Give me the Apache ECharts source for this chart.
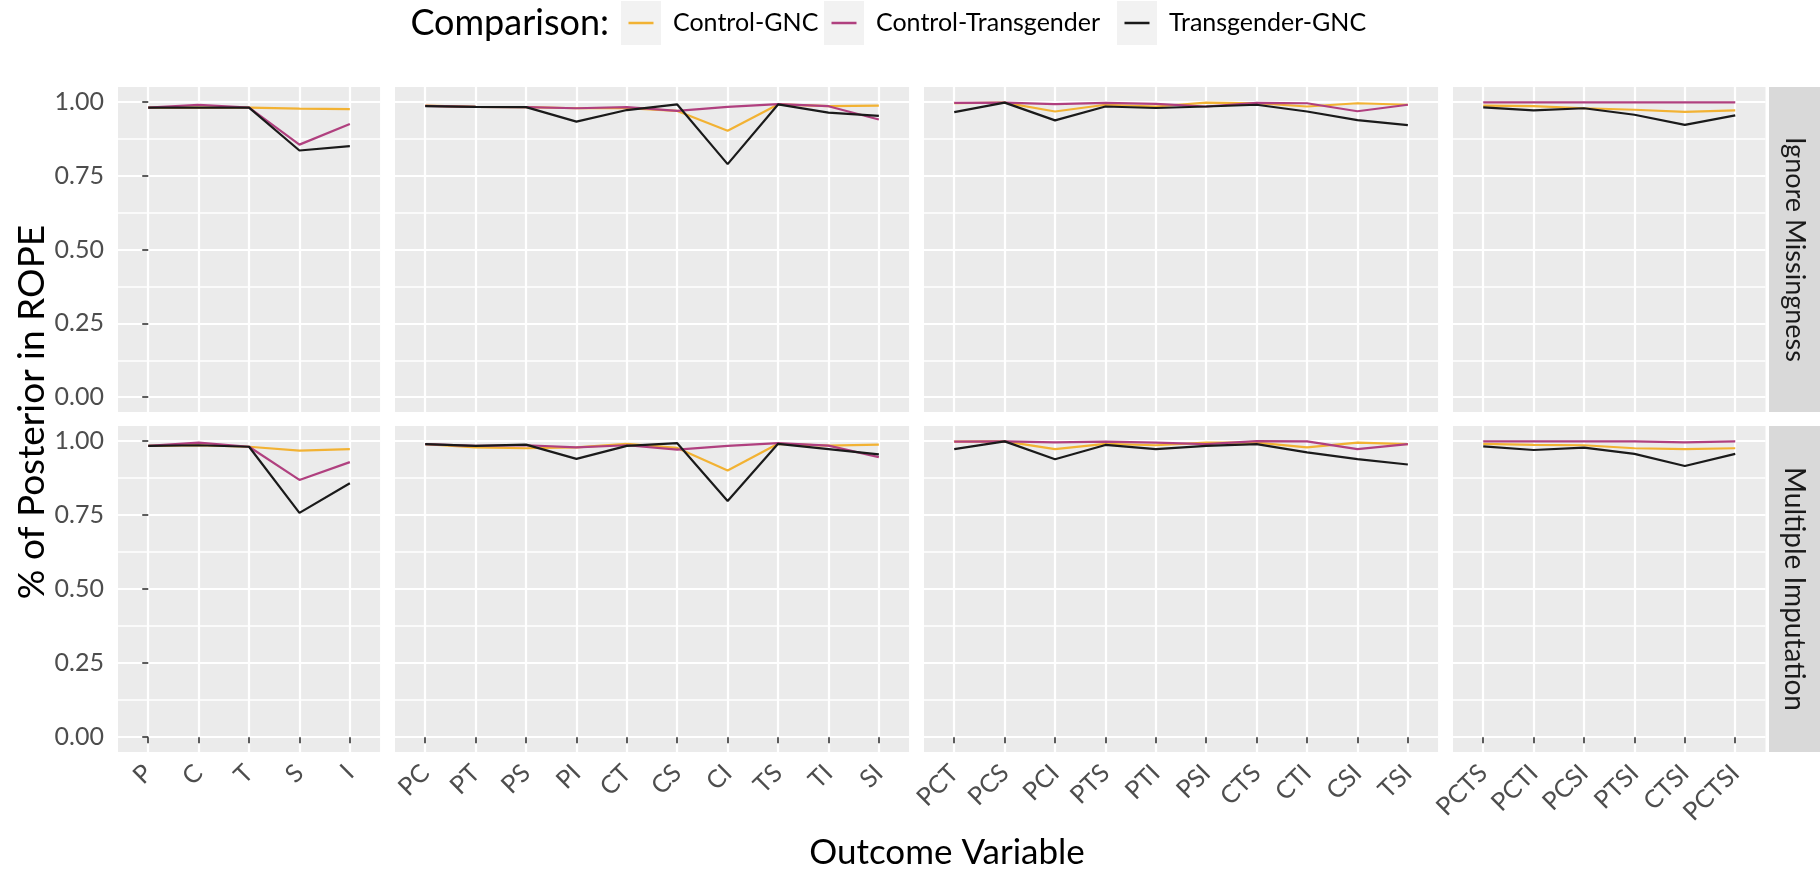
<!DOCTYPE html>
<html>
<head>
<meta charset="utf-8">
<script src="https://cdn.jsdelivr.net/npm/echarts@6/dist/echarts.min.js"></script>
<style>
html, body { margin: 0; padding: 0; background: #fff; }
#chart { width: 1820px; height: 872px; }
</style>
</head>
<body>
<div id="chart"></div>
<script>
// Comparison groups and their colours
const comparisons = ['Control-GNC', 'Control-Transgender', 'Transgender-GNC'];
const lineColors = ['#F2B233', '#B0407F', '#1A1A1A'];
const methods = ['Ignore Missingness', 'Multiple Imputation'];

// Outcome variables, one facet column per number of components
const outcomes1 = ['P', 'C', 'T', 'S', 'I'];
const outcomes2 = ['PC', 'PT', 'PS', 'PI', 'CT', 'CS', 'CI', 'TS', 'TI', 'SI'];
const outcomes3 = ['PCT', 'PCS', 'PCI', 'PTS', 'PTI', 'PSI', 'CTS', 'CTI', 'CSI', 'TSI'];
const outcomes4 = ['PCTS', 'PCTI', 'PCSI', 'PTSI', 'CTSI', 'PCTSI'];

const yTicks = [0, 0.25, 0.5, 0.75, 1];
const yMinorTicks = [0.125, 0.375, 0.625, 0.875];

// Share of posterior inside the ROPE, in outcome order (outcomes1..outcomes4)
// Ignore Missingness
const ignoreControlGNC = [
  0.980, 0.980, 0.980, 0.977, 0.975,
  0.987, 0.983, 0.982, 0.978, 0.978, 0.969, 0.902, 0.991, 0.985, 0.987,
  0.995, 0.997, 0.967, 0.990, 0.984, 0.997, 0.995, 0.984, 0.995, 0.990,
  0.987, 0.985, 0.978, 0.973, 0.966, 0.971
];
const ignoreControlTrans = [
  0.980, 0.990, 0.980, 0.855, 0.925,
  0.986, 0.983, 0.982, 0.978, 0.982, 0.969, 0.983, 0.992, 0.985, 0.940,
  0.996, 0.997, 0.992, 0.996, 0.993, 0.984, 0.996, 0.995, 0.968, 0.990,
  0.998, 0.998, 0.998, 0.998, 0.998, 0.998
];
const ignoreTransGNC = [
  0.980, 0.980, 0.980, 0.835, 0.850,
  0.985, 0.983, 0.982, 0.933, 0.972, 0.991, 0.789, 0.991, 0.963, 0.952,
  0.965, 0.997, 0.937, 0.984, 0.979, 0.984, 0.990, 0.967, 0.938, 0.921,
  0.981, 0.971, 0.978, 0.956, 0.922, 0.954
];
// Multiple Imputation
const imputeControlGNC = [
  0.983, 0.985, 0.980, 0.967, 0.972,
  0.989, 0.978, 0.975, 0.978, 0.990, 0.976, 0.900, 0.990, 0.984, 0.987,
  0.997, 0.998, 0.972, 0.990, 0.985, 0.994, 0.994, 0.978, 0.994, 0.989,
  0.990, 0.986, 0.985, 0.975, 0.972, 0.975
];
const imputeControlTrans = [
  0.983, 0.994, 0.980, 0.868, 0.928,
  0.989, 0.983, 0.985, 0.978, 0.985, 0.970, 0.983, 0.992, 0.984, 0.945,
  0.997, 0.998, 0.995, 0.997, 0.994, 0.989, 0.999, 0.998, 0.972, 0.989,
  0.998, 0.998, 0.998, 0.998, 0.995, 0.998
];
const imputeTransGNC = [
  0.983, 0.985, 0.980, 0.757, 0.857,
  0.989, 0.983, 0.987, 0.939, 0.983, 0.992, 0.797, 0.990, 0.972, 0.954,
  0.972, 0.998, 0.938, 0.986, 0.972, 0.983, 0.989, 0.961, 0.938, 0.920,
  0.981, 0.969, 0.977, 0.956, 0.915, 0.956
];

// ---- layout ----
const FONT = 'Lato, "Open Sans", sans-serif';
const groups = [outcomes1, outcomes2, outcomes3, outcomes4];
const rowValues = [
  [ignoreControlGNC, ignoreControlTrans, ignoreTransGNC],
  [imputeControlGNC, imputeControlTrans, imputeTransGNC]
];
const step = 50.4;                 // pixels per category
const colLeft = [118, 395, 924, 1453];
const rowTop = [87, 426];
const rowHeight = [325, 326];
const stripLeft = 1769, stripWidth = 51;
const tickStyle = { color: '#333333', width: 1.6 };

const grids = [], xAxes = [], yAxes = [], series = [];
let gi = 0;
for (let r = 0; r < 2; r++) {
  let offset = 0;
  for (let c = 0; c < 4; c++) {
    const names = groups[c];
    const n = names.length;
    const idx = names.map((_, i) => i);
    grids.push({
      left: colLeft[c], top: rowTop[r], width: (n + 0.2) * step, height: rowHeight[r],
      show: true, backgroundColor: '#EBEBEB', borderWidth: 0, containLabel: false
    });
    xAxes.push({
      type: 'value', gridIndex: gi, min: -0.6, max: n - 0.4,
      axisLine: { show: false },
      axisTick: { show: r === 1, customValues: idx, length: 6, lineStyle: tickStyle },
      axisLabel: {
        show: r === 1, customValues: idx, rotate: 45, margin: 17,
        fontSize: 25, color: '#4D4D4D', fontFamily: FONT,
        formatter: v => names[Math.round(v)]
      },
      splitLine: { show: true, lineStyle: { color: '#FFFFFF', width: 2.2 } }
    });
    // major y grid and tick labels
    yAxes.push({
      type: 'value', gridIndex: gi, min: -0.05, max: 1.05, position: 'left',
      axisLine: { show: false },
      axisTick: { show: c === 0, customValues: yTicks, length: 6, lineStyle: tickStyle },
      axisLabel: {
        show: c === 0, customValues: yTicks, margin: 14,
        fontSize: 25, color: '#4D4D4D', fontFamily: FONT,
        formatter: v => v.toFixed(2)
      },
      splitLine: { show: true, lineStyle: { color: '#FFFFFF', width: 2.2 } }
    });
    // minor y grid
    yAxes.push({
      type: 'value', gridIndex: gi, min: -0.05, max: 1.05, position: 'right',
      axisLine: { show: false },
      axisTick: { show: true, customValues: yMinorTicks, length: 0, lineStyle: { color: 'rgba(0,0,0,0)' } },
      axisLabel: { show: true, customValues: yMinorTicks, color: 'rgba(0,0,0,0)', fontSize: 1 },
      splitLine: { show: true, lineStyle: { color: '#FFFFFF', width: 1.5 } }
    });
    rowValues[r].forEach((arr, k) => {
      series.push({
        type: 'line', name: comparisons[k],
        xAxisIndex: gi, yAxisIndex: gi * 2,
        data: names.map((_, i) => [i, arr[offset + i]]),
        showSymbol: false, symbol: 'none', silent: true,
        lineStyle: { width: 2.2, color: lineColors[k] },
        itemStyle: { color: lineColors[k] },
        z: 3 + k
      });
    });
    offset += n;
    gi++;
  }
}

// Legend: one legend block per comparison so each key sits on its own grey square
const keyLeft = [621, 824, 1117];
const keyTop = 1, keyW = 40, keyH = 44;
const keyIcon = 'path://M0,0L0.01,0L0,0.01ZM47,44L47.01,44L47,44.01ZM7.5,20.8L32.5,20.8L32.5,23.2L7.5,23.2Z';
const legends = comparisons.map((name, k) => ({
  data: [name], left: keyLeft[k], top: keyTop, orient: 'horizontal',
  icon: keyIcon, itemWidth: 47, itemHeight: 44, padding: 0,
  selectedMode: false,
  itemStyle: { borderWidth: 0 },
  textStyle: { fontSize: 25, color: '#000000', fontFamily: FONT }
}));

const graphics = [];
keyLeft.forEach(x => graphics.push({
  type: 'rect', x: x, y: keyTop, z: 0,
  shape: { width: keyW, height: keyH }, style: { fill: '#F2F2F2' }
}));
graphics.push({
  type: 'text', x: 609, y: keyTop + keyH / 2,
  style: { text: 'Comparison:', fill: '#000000', fontSize: 36, fontFamily: FONT,
           textAlign: 'right', align: 'right', textVerticalAlign: 'middle', verticalAlign: 'middle' }
});
// Facet strips
const stripFont = [27, 28];
methods.forEach((m, r) => {
  graphics.push({
    type: 'rect', x: stripLeft, y: rowTop[r], z: 0,
    shape: { width: stripWidth, height: rowHeight[r] }, style: { fill: '#D9D9D9' }
  });
  graphics.push({
    type: 'text', x: stripLeft + stripWidth / 2, y: rowTop[r] + rowHeight[r] / 2, rotation: -Math.PI / 2,
    style: { text: m, fill: '#1A1A1A', fontSize: stripFont[r], fontFamily: FONT,
             textAlign: 'center', align: 'center', textVerticalAlign: 'middle', verticalAlign: 'middle' }
  });
});
// Axis titles
graphics.push({
  type: 'text', x: 32, y: 412, rotation: Math.PI / 2,
  style: { text: '% of Posterior in ROPE', fill: '#000000', fontSize: 37, fontFamily: FONT,
           textAlign: 'center', align: 'center', textVerticalAlign: 'middle', verticalAlign: 'middle' }
});
graphics.push({
  type: 'text', x: 947, y: 853,
  style: { text: 'Outcome Variable', fill: '#000000', fontSize: 35, fontFamily: FONT,
           textAlign: 'center', align: 'center', textVerticalAlign: 'middle', verticalAlign: 'middle' }
});

const chart = echarts.init(document.getElementById('chart'), null, { renderer: 'canvas' });
chart.setOption({
  animation: false,
  backgroundColor: '#FFFFFF',
  grid: grids,
  xAxis: xAxes,
  yAxis: yAxes,
  legend: legends,
  graphic: { elements: graphics },
  series: series
});
</script>
</body>
</html>
